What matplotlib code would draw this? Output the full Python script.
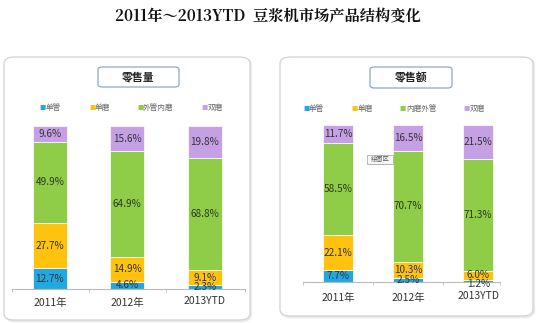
import matplotlib
matplotlib.use('Agg')
import matplotlib.pyplot as plt
from matplotlib.patches import FancyBboxPatch
import numpy as np

plt.rcParams['font.family'] = ['Noto Sans CJK SC', 'DejaVu Sans']

# data
years = ['2011年', '2012年', '2013YTD']
volume_labels = ['单管', '单磨', '外管内磨', '双磨']
value_labels = ['单管', '单磨', '内磨外管', '双磨']
volume = [
    [12.7, 4.6, 2.3],    # 单管
    [27.7, 14.9, 9.1],   # 单磨
    [49.9, 64.9, 68.8],  # 外管内磨
    [9.6, 15.6, 19.8],   # 双磨
]
value = [
    [7.7, 2.5, 1.2],
    [22.1, 10.3, 6.0],
    [58.5, 70.7, 71.3],
    [11.7, 16.5, 21.5],
]
colors = ['#22A8E0', '#FFC20E', '#8FCC47', '#C6A0E4']

W, H = 536, 323
fig = plt.figure(figsize=(W / 100, H / 100), dpi=100)


def px(x, y):
    # pixel (from top-left) -> figure fraction
    return x / W, 1 - y / H


def rbox(x0, y0, x1, y1, ec, lw=0.8, pad=0.012):
    fx0, fy1 = px(x0, y0)
    fx1, fy0 = px(x1, y1)
    # soft shadow
    sh = FancyBboxPatch((fx0 + 0.002, fy0 - 0.004), fx1 - fx0, fy1 - fy0,
                        boxstyle='round,pad=0,rounding_size=%f' % pad,
                        transform=fig.transFigure, fc='none', ec='#EBEBEB',
                        lw=lw + 0.6, zorder=-2)
    b = FancyBboxPatch((fx0, fy0), fx1 - fx0, fy1 - fy0,
                       boxstyle='round,pad=0,rounding_size=%f' % pad,
                       transform=fig.transFigure, fc='white', ec=ec,
                       lw=lw, zorder=-1)
    fig.patches.append(sh)
    fig.patches.append(b)


# title
tx, ty = px(268, 17)
fig.text(tx, ty, '2011年～2013YTD  豆浆机市场产品结构变化', ha='center', va='center',
         fontsize=11, fontweight='bold', color='#111111',
         family=['Noto Serif CJK SC', 'Noto Sans CJK SC', 'DejaVu Serif'])

# panel frames
rbox(4, 57, 250, 320, '#D2D2D2', lw=0.9, pad=0.02)
rbox(280, 57, 533, 316, '#D2D2D2', lw=0.9, pad=0.02)


def draw_panel(rect, data, labels, title, title_box, legend_y, legend_x, xlim, width, tick_y):
    ax = fig.add_axes(rect)
    x = np.arange(len(years))
    bottom = np.zeros(len(years))
    for i, seg in enumerate(data):
        seg = np.array(seg)
        ax.bar(x, seg, width, bottom=bottom, color=colors[i], edgecolor='white', linewidth=0.5, zorder=2)
        for xi, b, v in zip(x, bottom, seg):
            yy = b + v / 2
            if v < 2:
                yy = b - 1.2
            ax.text(xi, yy, '%.1f%%' % v, ha='center', va='center', fontsize=7.2,
                    color='#2A3A1A' if i == 2 else '#333333', zorder=3)
        bottom += seg
    ax.set_xlim(*xlim)
    ax.set_ylim(0, 100)
    ax.set_yticks([])
    for s in ['top', 'right', 'left']:
        ax.spines[s].set_visible(False)
    ax.spines['bottom'].set_color('#BBBBBB')
    ax.spines['bottom'].set_linewidth(0.8)
    ax.set_xticks(x)
    ax.set_xticklabels([])
    ax.tick_params(axis='x', length=0)
    ax.set_xticks([xlim[0], 0.5, 1.5, xlim[1]], minor=True)
    ax.tick_params(axis='x', which='minor', length=2.5, color='#BBBBBB', width=0.6)
    for xi, lab in zip(x, years):
        off = -2 if lab.endswith('YTD') else 0
        ax.annotate(lab, (xi, 0), xytext=(0, -tick_y - off), textcoords='offset pixels',
                    ha='center', va='center', fontsize=7.5, color='#333333')
    ax.patch.set_alpha(0)

    # title box
    x0, y0, x1, y1 = title_box
    rbox(x0, y0, x1, y1, '#8FA6C9', lw=0.9, pad=0.008)
    cx, cy = px((x0 + x1) / 2, (y0 + y1) / 2)
    fig.text(cx, cy, title, ha='center', va='center', fontsize=7.8,
             fontweight='bold', color='#222222')

    # legend
    for lx, lab, c in zip(legend_x, labels, colors):
        fx, fy = px(lx, legend_y)
        fig.text(fx, fy, '■', ha='center', va='center', fontsize=4.5, color=c)
        fig.text(fx + 3 / W, fy, lab, ha='left', va='center', fontsize=5.5, color='#666666')
    return ax


draw_panel([12 / W, 34 / H, 233 / W, 163 / H], volume, volume_labels, '零售量',
           (98, 67, 179, 87), 108, [43, 92, 140, 205], (-0.49, 2.52), 0.44, 14)
ax2 = draw_panel([303 / W, 41 / H, 197 / W, 157 / H], value, value_labels, '零售额',
                 (370, 67, 452, 88), 109, [306, 355, 403, 467], (-0.5, 2.31), 0.43, 16)

# tooltip artefact from the screenshot
tx0, ty0 = px(367, 155)
tx1, ty1 = px(393, 164)
tip = FancyBboxPatch((tx0, ty1), tx1 - tx0, ty0 - ty1, boxstyle='square,pad=0',
                     transform=fig.transFigure, fc='#F7F7F7', ec='#AAAAAA', lw=0.6, zorder=5)
fig.patches.append(tip)
fig.text((tx0 + tx1) / 2, (ty0 + ty1) / 2, '绘图区', ha='center', va='center',
         fontsize=4.5, color='#555555', zorder=6)

fig.savefig('out.png', dpi=100)
